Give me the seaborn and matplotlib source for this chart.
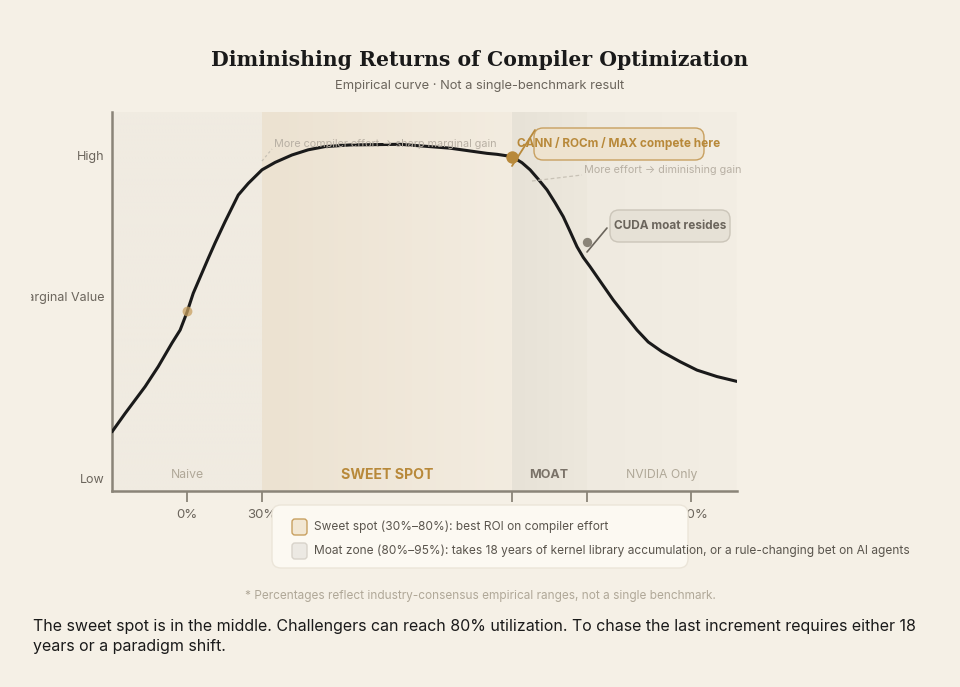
import matplotlib
matplotlib.use('Agg')
import matplotlib.pyplot as plt
import seaborn as sns
import numpy as np
import pandas as pd
from matplotlib.patches import FancyBboxPatch
from matplotlib.lines import Line2D
from matplotlib.transforms import IdentityTransform
from matplotlib.colors import LinearSegmentedColormap

sns.set_theme(style='white')
plt.rcParams['font.family'] = ['Inter', 'DejaVu Sans']
plt.rcParams['axes.unicode_minus'] = False

W, H = 960, 687
BG = '#f5f0e6'

# ---------------- data ----------------
# effort index (0..100 across the plot) vs. marginal value (Low=0, High=1)
effort = [0.0, 2.1, 5.3, 7.4, 9.6, 10.9, 12.0, 13.0, 14.4, 15.4, 16.5,
          18.1, 20.2, 21.8, 24.0, 26.1, 28.8, 31.4, 34.1, 38.1, 46.1,
          54.1, 60.0, 61.6, 64.0, 65.6, 66.9, 68.2, 69.6, 70.9, 72.2,
          73.3, 74.4, 75.4, 76.5, 78.4, 80.2, 82.1, 84.0, 85.8, 88.0,
          90.9, 93.6, 96.8, 100.0]
value = [0.146, 0.203, 0.286, 0.348, 0.421, 0.461, 0.516, 0.575, 0.638,
         0.683, 0.731, 0.797, 0.879, 0.915, 0.957, 0.980, 1.003, 1.019,
         1.029, 1.034, 1.036, 1.024, 1.008, 1.005, 0.998, 0.979, 0.957,
         0.928, 0.895, 0.855, 0.812, 0.766, 0.719, 0.686, 0.657, 0.604,
         0.554, 0.507, 0.461, 0.424, 0.394, 0.363, 0.337, 0.317, 0.302]

zone_names = ['Naive', 'SWEET SPOT', 'MOAT', 'NVIDIA Only']
zone_start = [0, 24, 64, 76]
zone_end = [24, 64, 76, 100]

tick_pos = [12, 24, 64, 76, 92.6]
tick_labels = ['0%', '30%', '80%', '95%', '100%']

dot_x = [12, 64, 76]
dot_y = [0.52, 0.997, 0.734]

df = pd.DataFrame({'effort': effort, 'value': value})

# ---------------- figure ----------------
fig = plt.figure(figsize=(W / 100, H / 100), dpi=100, facecolor=BG)


def fx(px):
    return px / W


def fy(py):
    return 1 - py / H


YLIM = (-0.0372, 1.136)
ax = fig.add_axes([fx(112), fy(491), 625 / W, 379 / H])
ax.set_facecolor(BG)

# zone backgrounds (gradients)
zone_cols = [('#f0ebe1', '#f0ebe1'), ('#ece2d1', '#f3ece0'),
             ('#e7e2d7', '#ede8dd'), ('#efeae0', '#f3eee4')]
for (c0, c1), s, e in zip(zone_cols, zone_start, zone_end):
    cmap = LinearSegmentedColormap.from_list('z', [c0, c1])
    ax.imshow(np.linspace(0, 1, 100).reshape(1, -1), cmap=cmap, aspect='auto',
              extent=[s, e, YLIM[0], YLIM[1]], zorder=0, interpolation='bilinear')

sns.lineplot(data=df, x='effort', y='value', color='#1a1a1a', lw=2.2,
             ax=ax, zorder=4, sort=False)
ax.lines[-1].set_solid_joinstyle('round')

ax.scatter(dot_x[0], dot_y[0], s=50, color='#c8a060', alpha=0.75, zorder=5, lw=0)
ax.scatter(dot_x[1], dot_y[1], s=80, color='#b8893a', zorder=5, lw=0)
ax.scatter(dot_x[2], dot_y[2], s=45, color='#8a8478', zorder=5, lw=0)

ax.set_xlim(0, 100)
ax.set_ylim(*YLIM)
ax.set_xticks(tick_pos, tick_labels)
ax.set_yticks([0, 1], ['Low', 'High'])
ax.set_xlabel('')
ax.set_ylabel('')
ax.tick_params(axis='x', length=8, width=1.3, color='#8a8478', pad=5,
               labelsize=9.5, labelcolor='#6b655c', bottom=True)
ax.tick_params(axis='y', length=0, pad=5.5, labelsize=9, labelcolor='#6b655c')
sns.despine(ax=ax)
for sp in ['left', 'bottom']:
    ax.spines[sp].set_color('#8a8478')
    ax.spines[sp].set_linewidth(1.8)

# the 80% / 95% labels sit behind the legend panel in the source
for lab in ax.get_xticklabels():
    if lab.get_text() in ('80%', '95%'):
        lab.set_visible(False)

# zone labels
zone_label_x = [187, 387, 549, 662]
zone_styles = [('#b0a898', 'normal', 8.8), ('#b8893a', 'bold', 10.2),
               ('#7a7268', 'bold', 9), ('#b0a898', 'normal', 8.8)]
for name, lx, (c, wgt, sz) in zip(zone_names, zone_label_x, zone_styles):
    fig.text(fx(lx), fy(475), name, ha='center', va='center', color=c,
             fontweight=wgt, fontsize=sz, zorder=6)

# y-axis title (clipped on the left like the source)
t = fig.text(fx(104), fy(298), 'Marginal Value', ha='right', va='center',
             color='#6b655c', fontsize=9)
clip = matplotlib.patches.Rectangle((31, 0), W, H, transform=IdentityTransform())
t.set_clip_path(clip)


def pbox(x0, y0, x1, y1, fc, ec, r=8, lw=1.0, z=5):
    p = FancyBboxPatch((x0, H - y1), x1 - x0, y1 - y0,
                       boxstyle='round,pad=0,rounding_size=%d' % r,
                       transform=IdentityTransform(), fc=fc, ec=ec, lw=lw, zorder=z)
    fig.patches.append(p)


def pline(x0, y0, x1, y1, c, ls='-', lw=1.0, z=6):
    fig.lines.append(Line2D([x0, x1], [H - y0, H - y1], transform=IdentityTransform(),
                            color=c, ls=ls, lw=lw, zorder=z))


# annotations
pline(262, 161, 272, 149, '#c8c2b6', ls=(0, (2, 2)), lw=0.9)
fig.text(fx(274), fy(144), 'More compiler effort \u2192 sharp marginal gain',
         ha='left', va='center', color='#b8b0a4', fontsize=7.8, zorder=6)

pbox(534, 128, 704, 160, '#eee3cf', '#c8a060', r=9, lw=1.0)
pline(512, 166, 535, 130, '#b8893a', lw=1.3)
fig.text(fx(619), fy(144), 'CANN / ROCm / MAX compete here', ha='center',
         va='center', color='#b8893a', fontweight='bold', fontsize=8.5, zorder=7)

pline(532, 181, 582, 175, '#c8c2b6', ls=(0, (3, 2)), lw=0.9)
fig.text(fx(584), fy(170), 'More effort \u2192 diminishing gain', ha='left',
         va='center', color='#b8b0a4', fontsize=7.8, zorder=6)

pbox(610, 210, 730, 242, '#e6e1d6', '#cbc5b9', r=9, lw=1.0)
pline(587, 252, 607, 228, '#6b655c', lw=1.2)
fig.text(fx(670), fy(226), 'CUDA moat resides', ha='center', va='center',
         color='#6b655c', fontweight='bold', fontsize=8.5, zorder=7)

# legend panel
pbox(272, 505, 688, 568, '#fcf9f2', '#ebe5d9', r=9, lw=1.0, z=8)
pbox(292, 519, 307, 535, '#f2e7d3', '#c8a060', r=3, lw=1.0, z=9)
pbox(292, 543, 307, 559, '#ece9e3', '#d8d3ca', r=3, lw=1.0, z=9)
fig.text(fx(314), fy(527), 'Sweet spot (30%\u201380%): best ROI on compiler effort',
         ha='left', va='center', color='#5a554d', fontsize=8.6, zorder=10)
fig.text(fx(314), fy(551), 'Moat zone (80%\u201395%): takes 18 years of kernel library '
         'accumulation, or a rule-changing bet on AI agents',
         ha='left', va='center', color='#5a554d', fontsize=8.6, zorder=10)

# titles and notes
fig.text(0.5, fy(60), 'Diminishing Returns of Compiler Optimization', ha='center',
         va='center', family='DejaVu Serif', fontweight='bold', fontsize=14.7,
         color='#1a1a1a')
fig.text(0.5, fy(86), 'Empirical curve \u00b7 Not a single-benchmark result',
         ha='center', va='center', color='#6b655c', fontsize=9.3)
fig.text(0.5, fy(596), '* Percentages reflect industry-consensus empirical ranges, '
         'not a single benchmark.', ha='center', va='center', color='#b0a898',
         fontsize=8.5)
fig.text(fx(33), fy(627), 'The sweet spot is in the middle. Challengers can reach 80% '
         'utilization. To chase the last increment requires either 18',
         ha='left', va='center', color='#1a1a1a', fontsize=11.5)
fig.text(fx(33), fy(646), 'years or a paradigm shift.', ha='left', va='center',
         color='#1a1a1a', fontsize=11.5)

fig.savefig('out.png', dpi=100, facecolor=BG)
